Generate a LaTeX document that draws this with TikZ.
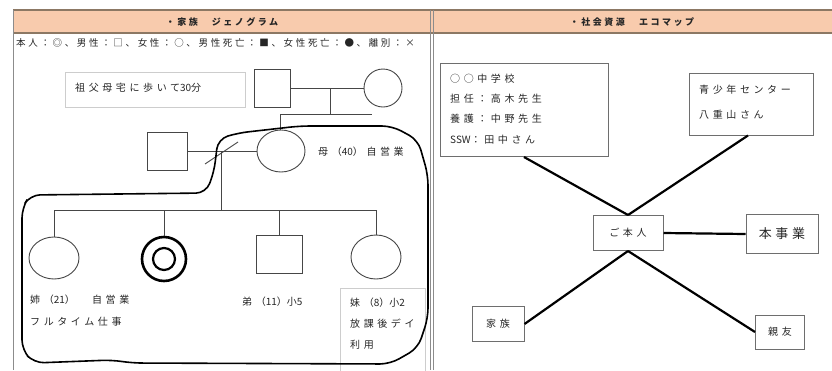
\documentclass[tikz,border=0pt]{standalone}
\usepackage{fontspec}
\newfontfamily\jp{Noto Sans CJK JP}
\newfontfamily\jpw[LetterSpace=36]{Noto Sans CJK JP}
\newfontfamily\jpl[LetterSpace=28]{Noto Sans CJK JP}
\newcommand{\nsp}[1]{{\jp #1}}
\usetikzlibrary{shapes.geometric}
\definecolor{peach}{RGB}{248,203,173}
\definecolor{rule}{RGB}{140,120,100}
\definecolor{shp}{RGB}{70,70,70}
\definecolor{lbox}{RGB}{205,205,205}
\definecolor{ebox}{RGB}{110,110,110}
\tikzset{
  txt/.style={font=\jpw\fontsize{10}{12}\selectfont, inner sep=0pt, anchor=west, text=black!85},
  male/.style={draw=shp, line width=0.9pt, minimum width=#1, minimum height=38pt, inner sep=0pt},
  fem/.style={draw=shp, line width=0.9pt, ellipse, minimum width=#1, minimum height=42pt, inner sep=0pt},
  gl/.style={draw=shp, line width=0.9pt},
  ebx/.style={draw=ebox, line width=1pt, inner sep=0pt, text=black!85},
  elink/.style={line width=2.2pt, black}
}
\begin{document}
\begin{tikzpicture}[x=1pt,y=-1pt]
\useasboundingbox (0,0) rectangle (832,370);
\fill[white] (0,0) rectangle (832,370);
% table
\fill[peach] (13,10) rectangle (832,33);
\draw[rule, line width=1.4pt] (13,10) -- (832,10);
\draw[rule, line width=1.4pt] (13,33) -- (832,33);
\draw[black!45, line width=1pt] (13,10) -- (13,370);
\draw[black!45, line width=0.8pt] (430,10) -- (430,370);
\draw[black!45, line width=0.8pt] (433,10) -- (433,370);
\node[txt, anchor=center, font=\jpl\bfseries\fontsize{9}{11}\selectfont] (h1) at (222,22) {・家族　ジェノグラム};
\node[txt, anchor=center, font=\jpl\bfseries\fontsize{9}{11}\selectfont] (h2) at (632,22) {・社会資源　エコマップ};
\node[txt, font=\jpl\fontsize{9.5}{12}\selectfont] (leg) at (16,43) {本人：◎、男性：□、女性：○、男性死亡：■、女性死亡：●、離別：×};
% grandparents note
\node[draw=lbox, line width=0.8pt, minimum width=180pt, minimum height=35pt] (note) at (155,90) {};
\node[txt] (notet) at (75,88) {祖父母宅に歩いて\nsp{30}分};
% genogram
\node[male=36pt] (gf) at (272,88) {};
\node[fem=38pt, minimum height=38pt] (gm) at (383,88) {};
\draw[gl] (gf.east) -- (gm.west);
\coordinate (g1) at (330,88);
\coordinate (g2) at (330,114);
\coordinate (g3) at (280,114);
\coordinate (g4) at (372,114);
\draw[gl] (g1) -- (g2);
\draw[gl] (g3) -- (g4);
\node[male=40pt] (fa) at (167,151) {};
\node[fem=48pt] (mo) at (281,151) {};
\draw[gl] (g3) -- (mo.north -| g3);
\draw[gl] (fa.east) -- (mo.west);
\coordinate (d1) at (205,164);
\coordinate (d2) at (238,142);
\draw[gl] (d1) -- (d2);
\node[txt] (mot) at (318,152) {母（\nsp{40}）自営業};
\coordinate (c0) at (221,151);
\coordinate (c1) at (221,210);
\draw[gl] (c0) -- (c1);
\coordinate (hl) at (54,210);
\coordinate (hr) at (376,210);
\draw[gl] (hl) -- (hr);
\node[fem=50pt] (s1) at (54,258) {};
\node[circle, draw=black, line width=2.6pt, minimum size=44pt, inner sep=0pt] (me) at (164,259) {};
\node[circle, draw=black, line width=2.2pt, minimum size=22pt, inner sep=0pt] (mei) at (164,259) {};
\node[male=46pt] (br) at (279,254) {};
\node[fem=50pt, minimum height=44pt] (s2) at (376,257) {};
\draw[gl] (s1.north |- hl) -- (s1.north);
\draw[gl] (me.north |- hl) -- (me.north);
\draw[gl] (br.north |- hl) -- (br.north);
\draw[gl] (s2.north |- hl) -- (s2.north);
\node[txt] (s1t) at (30,300) {姉（\nsp{21}）　自営業};
\node[txt] (s1t2) at (30,322) {フルタイム仕事};
\node[txt] (brt) at (242,302) {弟（\nsp{11}）\nsp{小5}};
\draw[lbox, line width=0.8pt] (340,372) -- (340,288) -- (425,288) -- (425,372);
\node[txt] (s2t) at (350,303) {妹（\nsp{8}）\nsp{小2}};
\node[txt] (s2t2) at (350,324) {放課後デイ};
\node[txt] (s2t3) at (350,345) {利用};
% household boundary
\draw[black, line width=1.6pt, rounded corners=10pt]
  (218,139) -- (214,172) -- (206,193) -- (30,195) -- (22,208) -- (22,350) -- (34,363)
  -- (112,360) -- (132,363) -- (390,364) -- (418,348) -- (428,318) -- (428,175)
  -- (418,140) -- (392,126) -- (300,126) -- (238,133) -- cycle;
% ecomap
\node[ebx, minimum width=168pt, minimum height=93pt] (sch) at (524,110) {};
\node[txt] (sch1) at (450,79) {○○中学校};
\node[txt] (sch2) at (450,99) {担任：高木先生};
\node[txt] (sch3) at (450,119) {養護：中野先生};
\node[txt] (sch4) at (450,140) {\nsp{SSW}：田中さん};
\node[ebx, minimum width=124pt, minimum height=62pt] (yc) at (751,104) {};
\node[txt] (yc1) at (699,90) {青少年センター};
\node[txt] (yc2) at (699,115) {八重山さん};
\node[ebx, minimum width=70pt, minimum height=35pt, font=\jpw\fontsize{10}{12}\selectfont] (me2) at (628,233) {ご本人};
\node[ebx, minimum width=72pt, minimum height=39pt, font=\jpl\fontsize{13}{15}\selectfont] (biz) at (782,234) {本事業};
\node[ebx, minimum width=52pt, minimum height=35pt, font=\jpw\fontsize{10}{12}\selectfont] (fam) at (498,324) {家族};
\node[ebx, minimum width=49pt, minimum height=34pt, font=\jpw\fontsize{10}{12}\selectfont] (fr) at (780,332) {親友};
\draw[elink] (me2.north) -- (sch.south);
\draw[elink] (me2.north) -- ([xshift=-3pt]yc.south);
\draw[elink] (me2.east) -- (biz.west);
\draw[elink] (me2.south) -- (fam.east);
\draw[elink] (me2.south) -- (fr.west);
\end{tikzpicture}
\end{document}
